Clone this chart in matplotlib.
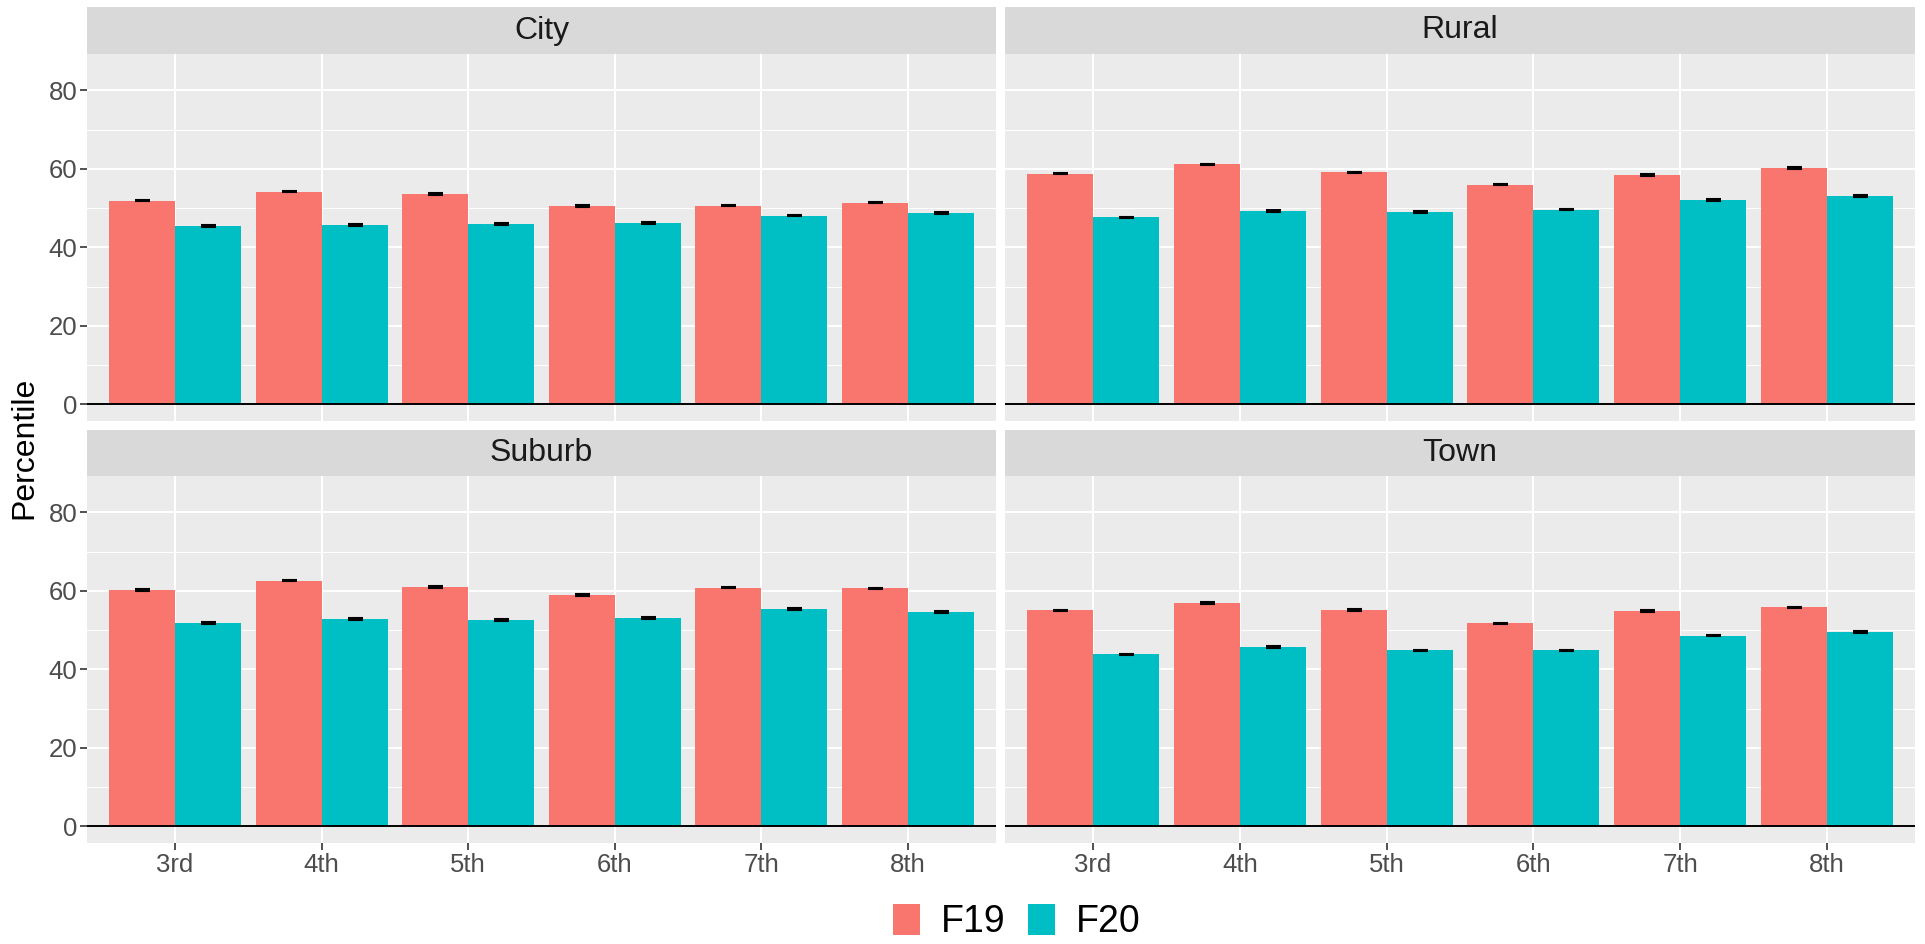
import numpy as np
import matplotlib.pyplot as plt
from matplotlib.patches import Patch

plt.rcParams['font.family'] = ['Liberation Sans', 'DejaVu Sans']

grades = ['3rd', '4th', '5th', '6th', '7th', '8th']
regions = ['City', 'Rural', 'Suburb', 'Town']
terms = ['F19', 'F20']

# mean percentile per grade
f19 = {
    'City':   [51.9, 54.2, 53.6, 50.5, 50.6, 51.4],
    'Rural':  [58.8, 61.1, 59.1, 56.0, 58.4, 60.2],
    'Suburb': [60.2, 62.6, 61.0, 59.0, 60.8, 60.6],
    'Town':   [55.0, 56.9, 55.1, 51.7, 54.8, 55.8],
}
f20 = {
    'City':   [45.5, 45.7, 45.9, 46.2, 48.1, 48.8],
    'Rural':  [47.6, 49.3, 49.0, 49.6, 52.0, 53.1],
    'Suburb': [51.8, 52.8, 52.6, 53.1, 55.4, 54.6],
    'Town':   [43.8, 45.7, 44.8, 44.8, 48.6, 49.5],
}
# standard errors (tiny)
se_f19 = [0.2, 0.2, 0.2, 0.2, 0.2, 0.2]
se_f20 = [0.2, 0.2, 0.2, 0.2, 0.2, 0.2]

col19 = '#F8766D'
col20 = '#00BFC4'

W, H = 1925, 944
fig = plt.figure(figsize=(W / 100, H / 100), dpi=100)

# pixel boxes (x0, x1) and (ytop, ybottom)
cols = [(87, 996), (1005, 1915)]
rows = [((7, 54), (54, 421)), ((430, 476), (476, 843))]

x = np.arange(len(grades))
bw = 0.45

for i, reg in enumerate(regions):
    r, c = divmod(i, 2)
    x0, x1 = cols[c]
    (st, sb), (pt, pb) = rows[r]

    ax = fig.add_axes([x0 / W, 1 - pb / H, (x1 - x0) / W, (pb - pt) / H])
    ax.set_facecolor('#EBEBEB')
    for s in ax.spines.values():
        s.set_visible(False)

    ax.bar(x - bw / 2, f19[reg], width=bw, color=col19, zorder=3)
    ax.bar(x + bw / 2, f20[reg], width=bw, color=col20, zorder=3)
    ax.errorbar(x - bw / 2, f19[reg], yerr=se_f19, fmt='none', ecolor='black',
                elinewidth=1.2, capsize=5.4, capthick=1.5, zorder=4)
    ax.errorbar(x + bw / 2, f20[reg], yerr=se_f20, fmt='none', ecolor='black',
                elinewidth=1.2, capsize=5.4, capthick=1.5, zorder=4)
    ax.axhline(0, color='black', lw=1.4, zorder=5)

    ax.set_xlim(-0.6, 5.6)
    ax.set_ylim(-4.25, 89.25)
    ax.set_yticks([0, 20, 40, 60, 80])
    ax.set_yticks([10, 30, 50, 70], minor=True)
    ax.set_xticks(x)
    ax.grid(which='major', color='white', lw=1.5, zorder=0)
    ax.grid(which='minor', axis='y', color='white', lw=0.75, zorder=0)
    ax.set_axisbelow(True)

    ax.tick_params(which='minor', length=0)
    ax.tick_params(which='major', colors='#333333', length=5, width=1.2,
                   labelcolor='#4D4D4D', labelsize=18.5, pad=2)
    if c == 0:
        ax.set_yticklabels(['0', '20', '40', '60', '80'])
    else:
        ax.tick_params(axis='y', length=0, labelleft=False)
    if r == 1:
        ax.set_xticklabels(grades)
    else:
        ax.tick_params(axis='x', length=0, labelbottom=False)

    sax = fig.add_axes([x0 / W, 1 - sb / H, (x1 - x0) / W, (sb - st) / H])
    sax.set_facecolor('#D9D9D9')
    sax.set_xticks([])
    sax.set_yticks([])
    for s in sax.spines.values():
        s.set_visible(False)
    sax.text(0.5, 0.5, reg, ha='center', va='center', fontsize=23,
             color='#1A1A1A', transform=sax.transAxes)

fig.text(24 / W, 1 - 448 / H, 'Percentile', rotation=90, ha='center',
         va='center', fontsize=23, color='black')

handles = [Patch(facecolor=col19, label=terms[0]),
           Patch(facecolor=col20, label=terms[1])]
fig.legend(handles=handles, loc='center', bbox_to_anchor=(1017 / W, 1 - 922 / H),
           ncol=2, frameon=False, fontsize=27, handlelength=0.72,
           handleheight=0.93, handletextpad=0.55, columnspacing=0.6,
           borderpad=0)

fig.savefig('out.png', dpi=100, facecolor='white')
